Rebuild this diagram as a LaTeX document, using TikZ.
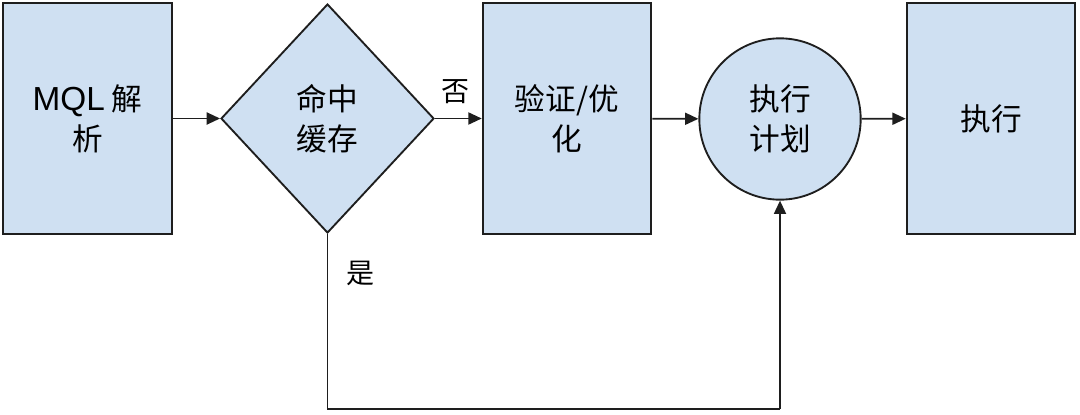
\documentclass[tikz,border=0pt]{standalone}
\usepackage{fontspec}
\setmainfont{Liberation Sans}
\newfontfamily\cjk{Noto Sans CJK SC}
\usetikzlibrary{shapes.geometric,arrows.meta}
\definecolor{boxfill}{RGB}{207,224,242}
\definecolor{edge}{RGB}{30,30,30}
\tikzset{
  shp/.style={draw=edge, fill=boxfill, line width=1.4pt, inner sep=0pt,
    align=center, font=\fontsize{23}{30}\selectfont\cjk},
  rectbox/.style={shp, rectangle, minimum width=126.5pt, minimum height=173.25pt},
  decide/.style={shp, diamond, minimum width=159.75pt, minimum height=171.75pt},
  roundnode/.style={shp, circle, minimum size=121pt},
  conn/.style={line width=1.4pt, draw=edge, -{Triangle[length=10pt,width=9pt]}},
  plainline/.style={line width=1.4pt, draw=edge},
  lbl/.style={font=\fontsize{21}{24}\selectfont\cjk, inner sep=0pt}
}
\begin{document}
\begin{tikzpicture}[x=0.75pt,y=-0.75pt]
\useasboundingbox (0,0) rectangle (1080,414);
\node[rectbox] (parse) at (87.5,118.5) {{\fontspec{Liberation Sans}\fontsize{25}{30}\selectfont MQL} 解\\析};
\node[decide] (hit) at (327.5,118.5) {命中\\缓存};
\node[rectbox] (opt) at (567,118.5) {验证/优\\化};
\node[roundnode] (plan) at (780,119) {执行\\计划};
\node[rectbox] (exec) at (991,118.5) {执行};
\draw[conn] (parse) -- (hit);
\draw[conn] (hit) -- (opt);
\draw[conn] (opt) -- (plan);
\draw[conn] (plan) -- (exec);
\coordinate (c1) at (327.5,409);
\coordinate (c2) at (780,409);
\draw[plainline] (hit.south) -- (c1) -- (c2);
\draw[conn] (c2) -- (plan.south);
\node[lbl] (no) at (455,92) {否};
\node[lbl] (yes) at (360,273) {是};
\end{tikzpicture}
\end{document}
